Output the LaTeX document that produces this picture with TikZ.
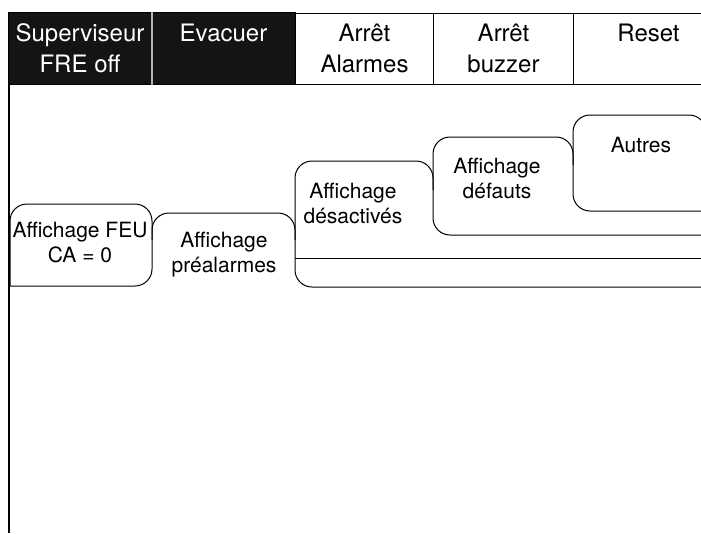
\documentclass[tikz,border=0pt]{standalone}
\usepackage{fontspec}
\setmainfont{TeX Gyre Heros}
\usetikzlibrary{positioning}

\begin{document}
\begin{tikzpicture}[
            x = 1pt, y = -1pt, % pixel grid, y going down
            line width = 1pt,
            cell/.style = {draw, minimum height = 71pt, inner sep = 0pt, anchor = north west},
            bartext/.style = {font = \fontsize{24}{31}\selectfont, align = center, inner sep = 0pt, anchor = north},
            tabtext/.style = {font = \fontsize{21}{25}\selectfont, align = center, inner sep = 0pt, anchor = north},
            tab/.style = {draw, rounded corners = 17pt}
        ]

        \useasboundingbox (0,0) rectangle (701,533);
        \clip (0,0) rectangle (701,533);

        % menu bar
        \node[cell, fill = black!92, minimum width = 143pt, minimum height = 72pt] (sup) at (8,12) {};
        \node[cell, fill = black!92, minimum width = 144pt, minimum height = 72pt] (evac) at (151,12) {};
        \node[cell, minimum width = 138pt] (alarm) at (295,13) {};
        \node[cell, minimum width = 140pt] (buzz) at (433,13) {};
        \node[cell, minimum width = 150pt] (reset) at (573,13) {};
        \draw[white!70!black, line width = 1.2pt] (sup.north east) -- (sup.south east);

        \node[bartext, text = white] (supT) [below = 11pt of sup.north] {Superviseur\\FRE off};
        \node[bartext, text = white] (evacT) [below = 12pt of evac.north] {Evacuer};
        \node[bartext] (alarmT) [below = 10pt of alarm.north] {Arrêt\\Alarmes};
        \node[bartext] (buzzT) [below = 10pt of buzz.north] {Arrêt\\buzzer};
        \node[bartext] (resetT) [below = 11pt of reset.north] {Reset};

        % left border
        \coordinate (lt) at (9,84);
        \coordinate (lb) at (9,533);
        \draw[line width = 2pt] (lt) -- (lb);

        % tabs
        \draw[tab] (10,286) -- (10,204) -- (152,204) -- (152,286) -- (9,286);
        \draw[tab] (152,240) -- (152,213) -- (295,213) -- (295,240);
        \draw[tab] (710,287) -- (295,287) -- (295,161) -- (433,161) -- (433,190);
        \draw (295,258) -- (710,258);
        \draw[tab] (710,235) -- (433,235) -- (433,137) -- (573,137) -- (573,165);
        \draw[tab] (710,211) -- (573,211) -- (573,115) -- (706,115) -- (706,211);

        \node[tabtext] (feu) at (80,222) {Affichage FEU\\CA = 0};
        \node[tabtext] (prealarm) at (224,232) {Affichage\\préalarmes};
        \node[tabtext] (desact) at (353,183) {Affichage\\désactivés};
        \node[tabtext] (defaut) at (497,158) {Affichage\\défauts};
        \node[tabtext] (autre) at (641,137) {Autres};

  \end{tikzpicture}
\end{document}
